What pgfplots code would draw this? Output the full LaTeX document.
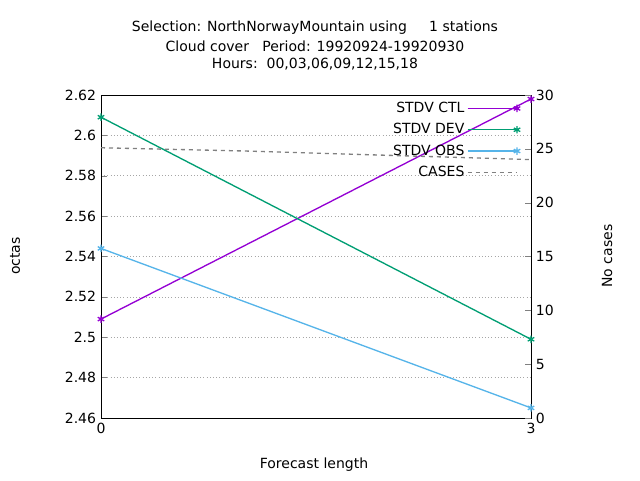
\documentclass[border=0pt]{standalone}
\usepackage{pgfplots}
\pgfplotsset{compat=1.18}
\usepackage{fontspec}
\setmainfont{DejaVu Sans}
\definecolor{cctl}{HTML}{9400D3}
\definecolor{cdev}{HTML}{009E73}
\definecolor{cobs}{HTML}{56B4E9}
\begin{document}
\fontsize{10.5}{12.5}\selectfont
\begin{tikzpicture}[x=0.75pt,y=0.75pt]
\path (-101,-62) rectangle (539,418);
\pgfplotsset{every axis/.style={at={(0,0)},anchor=origin,scale only axis,width=322.5pt,height=242.25pt,
  xmin=0,xmax=3,tick align=inside,/pgf/number format/assume math mode=true,
  tick label style={font=\fontsize{10.5}{12}\selectfont}}}
\begin{axis}[ymin=2.46,ymax=2.62,ytick={2.46,2.48,...,2.621},
  yticklabels={2.46,2.48,2.5,2.52,2.54,2.56,2.58,2.6,2.62},
  xtick={0,3},ytick pos=left,xtick pos=bottom,
  ymajorgrids,grid style={dotted,gray!70},
  legend style={at={(rel axis cs:0.985,0.995)},anchor=north east,draw=none,fill=none,
    font=\fontsize{10.5}{12}\selectfont,row sep=2.6pt},
  legend cell align=right,legend plot pos=right,
  legend image code/.code={\draw[#1] (0cm,0cm) -- (1.3cm,0cm);
     \draw[#1,only marks] plot coordinates {(1.3cm,0cm)};}]
\addplot[cctl,line width=1pt,mark=asterisk,mark size=2.8,mark options={solid}] coordinates {(0,2.509) (3,2.618)};
\addlegendentry{STDV CTL}
\addplot[cdev,line width=1pt,mark=asterisk,mark size=2.8] coordinates {(0,2.609) (3,2.499)};
\addlegendentry{STDV DEV}
\addplot[cobs,line width=1pt,mark=asterisk,mark size=2.8] coordinates {(0,2.544) (3,2.465)};
\addlegendentry{STDV OBS}
\addlegendimage{gray,dashed,line width=1pt,mark=none}
\addlegendentry{CASES}
\end{axis}
\begin{axis}[ymin=0,ymax=30,ytick={0,5,...,30},ytick pos=right,xtick=\empty,axis line style={draw=none}]
\addplot[gray,dashed,line width=1pt] coordinates {(0,25.1) (1,24.8) (2,24.4) (3,24.0)};
\end{axis}
\node at (214,390) {Selection: NorthNorwayMountain using\ \ \ \ \ 1 stations};
\node at (214,372) {Cloud cover\ \ \ Period: 19920924-19920930};
\node at (214,354) {Hours:\ \ 00,03,06,09,12,15,18};
\node at (213,-47) {Forecast length};
\node[rotate=90] at (-86,162) {octas};
\node[rotate=90] at (506,162) {No cases};
\end{tikzpicture}
\end{document}
